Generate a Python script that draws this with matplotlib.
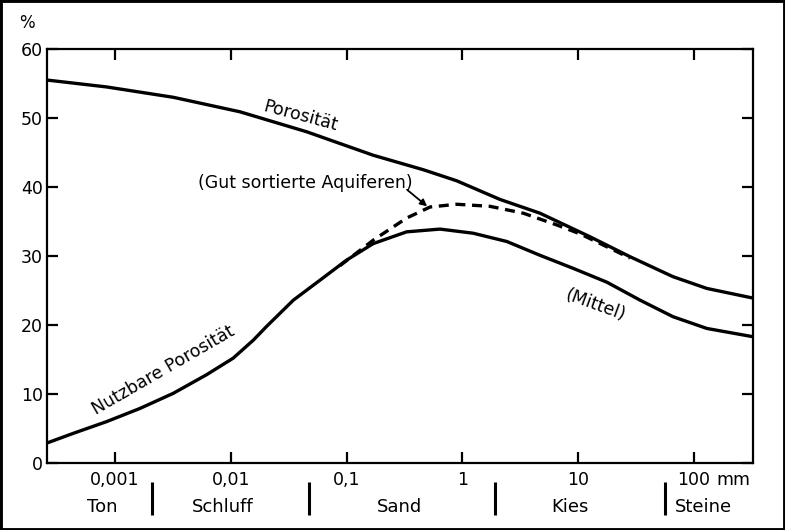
import matplotlib
matplotlib.use("Agg")
import matplotlib.pyplot as plt
from matplotlib.patches import Rectangle

# ---- data, grain size in mm, porosity in % ----
x_por = [0.000259, 0.000848, 0.00319, 0.0120, 0.0453, 0.170, 0.460, 0.893, 2.11, 4.68,
         12.6, 28.0, 65.9, 129, 323]
y_por = [55.5, 54.5, 53.0, 50.9, 48.0, 44.6, 42.5, 40.9, 38.2, 36.2,
         32.8, 29.9, 27.0, 25.3, 23.9]

x_nutz = [0.000259, 0.000437, 0.000848, 0.00164, 0.00319, 0.00619, 0.0105, 0.01565, 0.0204,
          0.0347, 0.0590, 0.100, 0.170, 0.330, 0.641, 1.24, 2.42, 4.68, 9.08, 17.7, 34.2,
          65.9, 129, 323]
y_nutz = [2.9, 4.3, 6.0, 7.9, 10.1, 12.8, 15.2, 17.8, 19.8,
          23.6, 26.5, 29.4, 31.8, 33.5, 33.9, 33.3, 32.1, 30.1, 28.2, 26.2, 23.6,
          21.2, 19.5, 18.3]

x_dash = [0.0877, 0.170, 0.330, 0.525, 0.893, 1.73, 3.36, 6.53, 10.4, 20.0, 28.0]
y_dash = [28.6, 32.3, 35.5, 37.1, 37.5, 37.2, 36.2, 34.5, 33.2, 30.9, 29.7]

x_ticks = [0.001, 0.01, 0.1, 1, 10, 100]
x_ticklabels = ["0,001", "0,01", "0,1", "1", "10", "100"]
y_ticks = [0, 10, 20, 30, 40, 50, 60]

categories = ["Ton", "Schluff", "Sand", "Kies", "Steine"]
category_centers = [0.00077, 0.00857, 0.289, 8.49, 120]
category_bounds = [0.0021, 0.047, 1.9, 56]

# ---- figure ----
fig = plt.figure(figsize=(7.85, 5.30), dpi=100)
ax = fig.add_axes([47/785, 1 - 463/530, (753-47)/785, (463-49)/530])

lw_curve = 2.4
ax.plot(x_por, y_por, color="black", lw=lw_curve, solid_capstyle="round", solid_joinstyle="round")
ax.plot(x_nutz, y_nutz, color="black", lw=lw_curve, solid_capstyle="round", solid_joinstyle="round")
ax.plot(x_dash, y_dash, color="black", lw=lw_curve, linestyle=(0, (3.0, 2.0)))

ax.set_xscale("log")
ax.set_xlim(0.000259, 323)
ax.set_ylim(0, 60)
ax.set_xticks(x_ticks)
ax.set_xticklabels(x_ticklabels)
ax.minorticks_off()
ax.set_yticks(y_ticks)
ax.set_yticklabels([str(v) for v in y_ticks])

for s in ax.spines.values():
    s.set_linewidth(1.6)
ax.tick_params(axis="both", which="major", direction="in", length=8, width=1.6,
               top=True, right=True, labelsize=12.5, colors="black")
ax.tick_params(axis="x", pad=6)
ax.tick_params(axis="y", pad=3)

# unit labels
ax.text((733-47)/706, -0.041, "mm", transform=ax.transAxes, ha="center", va="center",
        fontsize=12.5, clip_on=False)
fig.text(27/785, 1 - 23/530, "%", ha="center", va="center", fontsize=12)

# grain-size classes
xt = ax.get_xaxis_transform()
for name, xc in zip(categories, category_centers):
    ax.text(xc, -0.106, name, transform=xt, ha="center", va="center", fontsize=13, clip_on=False)
for xb in category_bounds:
    ax.plot([xb, xb], [-0.046, -0.126], transform=xt, color="black", lw=2.2,
            clip_on=False, solid_capstyle="butt")

# curve labels
ax.text(0.0397, 50.3, "Porosität", rotation=-15, ha="center", va="center", fontsize=12.5)
ax.text(0.00261, 13.5, "Nutzbare Porosität", rotation=30, ha="center", va="center", fontsize=12.5)
ax.text(14.0, 22.9, "(Mittel)", rotation=-20, ha="center", va="center", fontsize=12.5)
ax.text(0.0438, 40.6, "(Gut sortierte Aquiferen)", ha="center", va="center", fontsize=12.5)
ax.annotate("", xy=(0.496, 37.2), xytext=(0.333, 39.6),
            arrowprops=dict(arrowstyle="-|>", color="black", lw=1.3,
                            mutation_scale=10, shrinkA=0, shrinkB=0))

# outer frame
fig.patches.append(Rectangle((0, 0), 1, 1, transform=fig.transFigure, fill=False,
                             ec="black", lw=3.5))

fig.savefig("out.png", dpi=100)
